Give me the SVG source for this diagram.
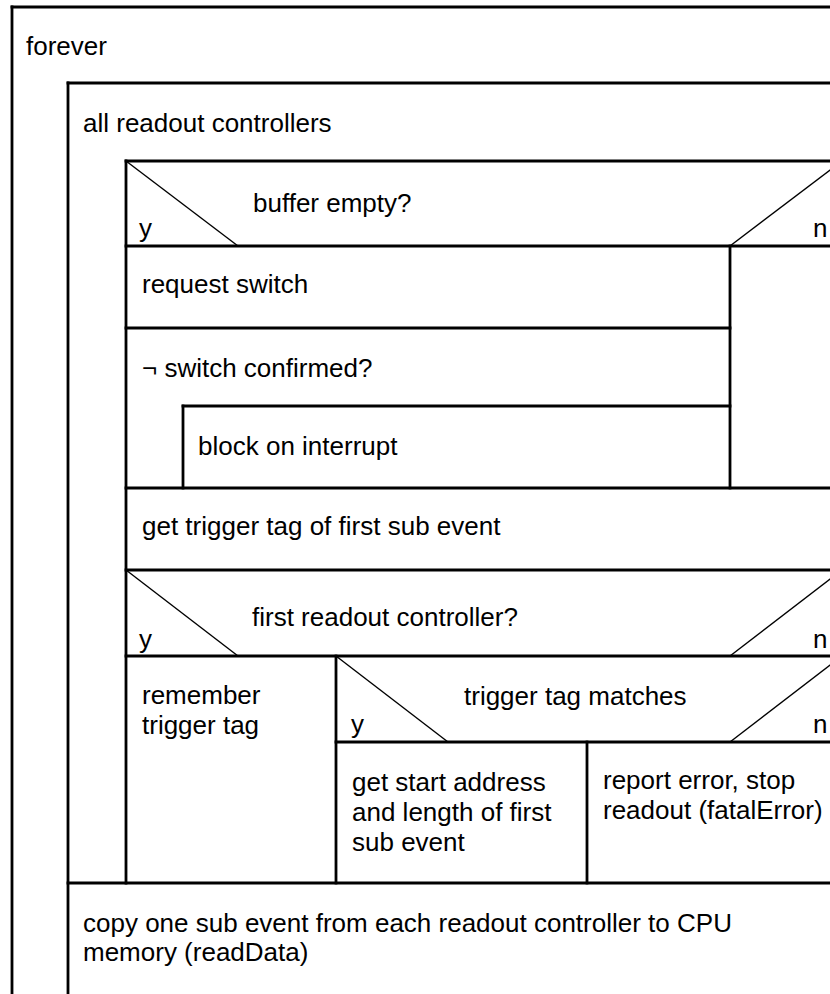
<svg xmlns="http://www.w3.org/2000/svg" width="830" height="994" viewBox="0 0 830 994">
<style>
  .ln { stroke: #000; stroke-width: 2.8; fill: none; stroke-linecap: square; }
  .dg { stroke: #000; stroke-width: 1.4; fill: none; }
  text { font-family: "Liberation Sans", Arial, Helvetica, sans-serif; font-size: 26px; fill: #000; }
</style>
<rect x="0" y="0" width="830" height="994" fill="#fff"/>

<g id="loop-forever">
  <line class="ln" x1="12" y1="7" x2="860" y2="7"/>
  <line class="ln" x1="12" y1="7" x2="12" y2="1010"/>
  <text x="26" y="55">forever</text>
</g>

<g id="loop-all-controllers">
  <line class="ln" x1="68" y1="83" x2="860" y2="83"/>
  <line class="ln" x1="68" y1="83" x2="68" y2="1010"/>
  <line class="ln" x1="126" y1="161" x2="126" y2="883"/>
  <text x="83" y="132">all readout controllers</text>
</g>

<g id="if-buffer-empty">
  <line class="ln" x1="126" y1="161" x2="860" y2="161"/>
  <line class="ln" x1="126" y1="246" x2="860" y2="246"/>
  <line class="dg" x1="126" y1="161" x2="238" y2="246"/>
  <line class="dg" x1="730" y1="246" x2="842" y2="161"/>
  <line class="ln" x1="730" y1="246" x2="730" y2="488"/>
  <text x="253" y="212">buffer empty?</text>
  <text x="139" y="237">y</text>
  <text x="813" y="237">n</text>
</g>

<g id="request-switch">
  <line class="ln" x1="126" y1="328" x2="730" y2="328"/>
  <text x="142" y="293">request switch</text>
</g>

<g id="while-not-confirmed">
  <line class="ln" x1="183" y1="406" x2="183" y2="488"/>
  <text x="142" y="377">¬ switch confirmed?</text>
</g>

<g id="block-on-interrupt">
  <line class="ln" x1="183" y1="406" x2="730" y2="406"/>
  <text x="198" y="455">block on interrupt</text>
</g>

<g id="get-trigger-tag">
  <line class="ln" x1="126" y1="488" x2="860" y2="488"/>
  <text x="142" y="535">get trigger tag of first sub event</text>
</g>

<g id="if-first-controller">
  <line class="ln" x1="126" y1="570" x2="860" y2="570"/>
  <line class="ln" x1="126" y1="656" x2="860" y2="656"/>
  <line class="dg" x1="126" y1="570" x2="238" y2="656"/>
  <line class="dg" x1="730" y1="656" x2="842" y2="570"/>
  <text x="252" y="626">first readout controller?</text>
  <text x="139" y="648">y</text>
  <text x="813" y="648">n</text>
</g>

<g id="remember-trigger-tag">
  <line class="ln" x1="336" y1="656" x2="336" y2="883"/>
  <text x="142" y="704">remember</text>
  <text x="142" y="734">trigger tag</text>
</g>

<g id="if-tag-matches">
  <line class="ln" x1="336" y1="742" x2="860" y2="742"/>
  <line class="dg" x1="336" y1="656" x2="448" y2="742"/>
  <line class="dg" x1="730" y1="742" x2="842" y2="656"/>
  <text x="464" y="705">trigger tag matches</text>
  <text x="351" y="733">y</text>
  <text x="813" y="733">n</text>
</g>

<g id="get-start-address">
  <line class="ln" x1="587" y1="742" x2="587" y2="883"/>
  <text x="352" y="791">get start address</text>
  <text x="352" y="821">and length of first</text>
  <text x="352" y="851">sub event</text>
</g>

<g id="report-error">
  <text x="603" y="789">report error, stop</text>
  <text x="603" y="819">readout (fatalError)</text>
</g>

<g id="copy-sub-event">
  <line class="ln" x1="68" y1="883" x2="860" y2="883"/>
  <text x="83" y="932">copy one sub event from each readout controller to CPU</text>
  <text x="83" y="961">memory (readData)</text>
</g>

<g id="connectors"></g>
</svg>
